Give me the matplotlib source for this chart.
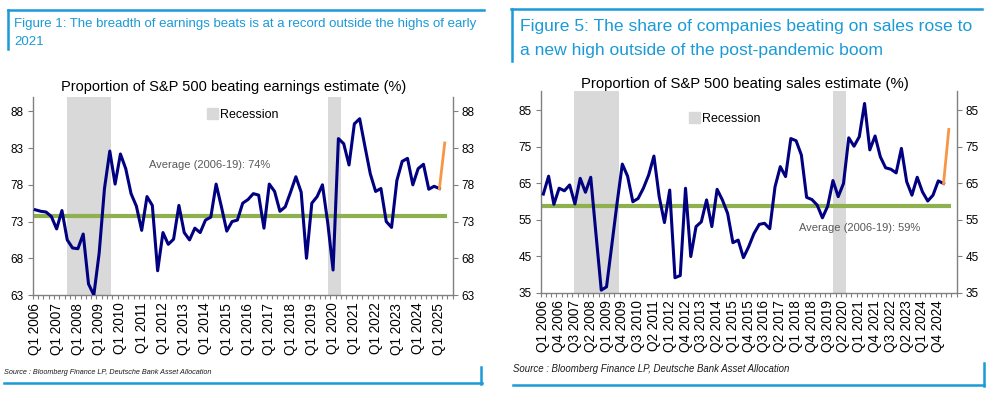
import numpy as np
import matplotlib
matplotlib.use("Agg")
import matplotlib.pyplot as plt
from matplotlib.patches import Patch
from matplotlib.lines import Line2D

plt.rcParams['font.family'] = ['Liberation Sans', 'DejaVu Sans']

# quarters Q1 2006 .. Q2 2025
quarters = ["Q%d %d" % (q, y) for y in range(2006, 2026) for q in range(1, 5)][:78]

# share beating earnings estimate (%), Q1 2006 .. Q1 2025
earnings = [74.6, 74.4, 74.3, 73.7, 72.0, 74.5, 70.5, 69.4, 69.3, 71.3,
            64.5, 63.0, 68.7, 77.5, 82.6, 78.1, 82.2, 80.2, 76.8, 75.1,
            71.8, 76.4, 75.2, 66.3, 71.5, 69.9, 70.6, 75.2, 71.5, 70.5,
            72.1, 71.5, 73.2, 73.6, 78.1, 75.0, 71.7, 73.0, 73.2, 75.5,
            76.0, 76.8, 76.6, 72.1, 78.1, 77.1, 74.4, 75.0, 77.0, 79.1,
            77.0, 68.0, 75.5, 76.4, 78.0, 72.8, 66.4, 84.3, 83.6, 80.7,
            86.3, 87.0, 83.2, 79.5, 77.1, 77.5, 73.0, 72.2, 78.6, 81.2,
            81.6, 78.0, 80.2, 80.8, 77.4, 77.8, 77.5]
earnings_latest = [77.5, 83.7]   # Q1 2025 -> Q2 2025
earnings_avg = 73.8

# share beating sales estimate (%)
sales = [62.0, 66.9, 59.2, 63.6, 62.9, 64.5, 59.3, 66.3, 62.5, 66.6,
         51.0, 35.7, 36.6, 48.0, 59.5, 70.2, 66.9, 59.9, 60.8, 63.6,
         67.2, 72.4, 61.3, 54.2, 63.1, 39.1, 39.7, 63.6, 44.9, 53.1,
         54.4, 60.4, 53.1, 63.3, 60.4, 56.7, 48.7, 49.4, 44.6, 47.6,
         51.2, 53.7, 54.0, 52.5, 64.0, 69.5, 66.8, 77.2, 76.6, 72.7,
         61.1, 60.5, 59.0, 55.5, 58.7, 65.7, 61.3, 64.9, 77.4, 75.1,
         77.7, 86.8, 74.1, 77.9, 72.2, 69.2, 68.8, 67.8, 74.5, 65.4,
         61.7, 66.6, 62.6, 60.1, 61.7, 65.6, 64.9]
sales_latest = [64.9, 79.7]
sales_avg = 58.6

# recession bands, in quarter index units
recessions = [(5.9, 14.3), (55.0, 57.4)]

W, H = 994, 394
BLUE = '#1a9ad7'
NAVY = '#000080'
GREEN = '#8fb04e'
ORANGE = '#f79646'
GREY = '#d9d9d9'


def fx(x):
    return x / W


def fy(y):
    return 1 - y / H


fig = plt.figure(figsize=(W / 100, H / 100), dpi=100)


def panel(rect, vals, latest, avg, ylim, yticks, step, avg_txt, avg_pos, leg_pos):
    ax = fig.add_axes(rect)
    x = np.arange(len(vals))
    for a, b in recessions:
        ax.axvspan(a, b, color=GREY, lw=0, zorder=0)
    ax.hlines(avg, -0.5, len(quarters) - 0.5, color=GREEN, lw=3, zorder=2)
    ax.plot(x, vals, color=NAVY, lw=2.2, zorder=3)
    ax.plot([len(vals) - 1, len(vals)], latest, color=ORANGE, lw=2, zorder=3)
    ax.set_xlim(-0.5, 78.5)
    ax.set_ylim(*ylim)
    ax.set_yticks(yticks)
    ax.tick_params(axis='y', which='both', left=True, right=True, labelleft=True,
                   labelright=True, length=3.5, width=0.8, color='#808080',
                   labelsize=8.5, pad=3)
    idx = list(range(0, 78, step))
    ax.set_xticks(idx)
    ax.set_xticklabels([quarters[i] for i in idx], rotation=90, fontsize=9.8)
    ax.set_xticks(np.arange(-0.5, 79, 1), minor=True)
    ax.tick_params(axis='x', which='major', length=0, pad=5.5)
    ax.tick_params(axis='x', which='minor', length=3, width=0.8, color='#808080')
    for s in ['left', 'right', 'bottom']:
        ax.spines[s].set_color('#808080')
        ax.spines[s].set_linewidth(1)
    ax.spines['top'].set_visible(False)
    ax.text(avg_pos[0], avg_pos[1], avg_txt, fontsize=8, color='#595959',
            ha='left', va='center')
    ax.legend(handles=[Patch(color=GREY, label='Recession')], loc='center left',
              bbox_to_anchor=leg_pos, frameon=False, fontsize=9, borderpad=0,
              borderaxespad=0, handlelength=0.9, handleheight=0.9, handletextpad=0.15)
    return ax


panel([fx(32.7), fy(295), 420 / W, 198.3 / H], earnings, earnings_latest, earnings_avg,
      (63, 90), [63, 68, 73, 78, 83, 88], 4,
      'Average (2006-19): 74%', (21.3, 80.7), (0.415, 0.91))
panel([fx(540.7), fy(292.7), 416 / W, 202 / H], sales, sales_latest, sales_avg,
      (35, 90.3), [35, 45, 55, 65, 75, 85], 3,
      'Average (2006-19): 59%', (48.5, 52.8), (0.356, 0.862))

fig.text(fx(233.3), fy(87.5), 'Proportion of S&P 500 beating earnings estimate (%)',
         ha='center', va='center', fontsize=10.5)
fig.text(fx(744.5), fy(84), 'Proportion of S&P 500 beating sales estimate (%)',
         ha='center', va='center', fontsize=10.7)

# captions
fig.text(fx(14), fy(24), 'Figure 1: The breadth of earnings beats is at a record outside the highs of early',
         color=BLUE, fontsize=9.5, va='center')
fig.text(fx(14), fy(41.7), '2021', color=BLUE, fontsize=9.5, va='center')
fig.text(fx(519.7), fy(27), 'Figure 5: The share of companies beating on sales rose to',
         color=BLUE, fontsize=12.6, va='center')
fig.text(fx(519.7), fy(50), 'a new high outside of the post-pandemic boom',
         color=BLUE, fontsize=12.6, va='center')

# sources
src = 'Source : Bloomberg Finance LP, Deutsche Bank Asset Allocation'
fig.text(fx(4), fy(372), src, fontsize=5.2, style='italic', va='center', color='#1a1a1a')
fig.text(fx(513), fy(369), src, fontsize=6.9, style='italic', va='center', color='#1a1a1a')

# blue frame pieces
frame = [
    ([7.5, 484], [10, 10]), ([7.8, 7.8], [10, 49]),
    ([511, 982], [9, 9]), ([512, 512], [9, 61]),
    ([4, 482], [383, 383]), ([481, 481], [367, 384]),
    ([513, 984], [385, 385]), ([984, 984], [363, 386]),
]
for xs, ys in frame:
    fig.add_artist(Line2D([fx(v) for v in xs], [fy(v) for v in ys], color=BLUE, lw=1.8))

fig.savefig('out.png', dpi=100)
